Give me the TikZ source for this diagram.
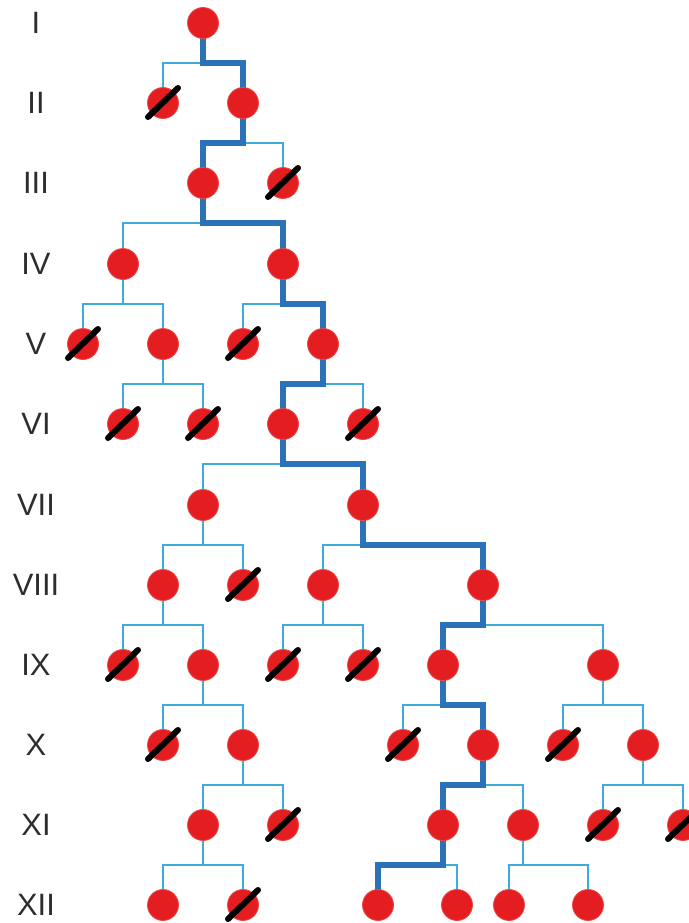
\documentclass[tikz,border=0pt]{standalone}
\usepackage{fontspec}
\setmainfont{Liberation Sans}
\usetikzlibrary{backgrounds}
\definecolor{cellred}{RGB}{228,30,32}
\definecolor{rimred}{RGB}{236,70,70}
\definecolor{thinblue}{RGB}{62,170,222}
\definecolor{thickblue}{RGB}{44,114,184}
\definecolor{labelgray}{RGB}{45,45,45}
\tikzset{
  cell/.style={circle, fill=cellred, draw=rimred, line width=0.8bp, minimum size=31bp, inner sep=0pt},
  slash/.style={draw=black, line width=6bp, line cap=round},
  tl/.style={draw=thinblue, line width=2.4bp},
  tk/.style={draw=thickblue, line width=5.5bp, line join=miter},
  gen/.style={font=\fontsize{31}{31}\selectfont, text=labelgray, inner sep=0pt, anchor=center}
}
\newcommand\live[3]{\node[cell] (#1) at (#2,#3) {};}
\newcommand\dead[3]{\node[cell] (#1) at (#2,#3) {};
  \draw[slash] ([shift={(-15,14)}]#1.center) -- ([shift={(15,-15)}]#1.center);}
\newcommand\brk[3]{\draw[tl] (#1.center) -- ++(0,40) coordinate (m-#1) -| (#2.center) (m-#1) -| (#3.center);}
\begin{document}
\begin{tikzpicture}[x=1bp,y=-1bp]
\useasboundingbox (0,0) rectangle (689,923);
\clip (0,0) rectangle (689,923);
% generation labels
\node[gen] (g1) at (36,23) {I};
\node[gen] (g2) at (36,103) {II};
\node[gen] (g3) at (36,183) {III};
\node[gen] (g4) at (36,264) {IV};
\node[gen] (g5) at (36,344) {V};
\node[gen] (g6) at (36,424) {VI};
\node[gen] (g7) at (36,505) {VII};
\node[gen] (g8) at (36,585) {VIII};
\node[gen] (g9) at (36,665) {IX};
\node[gen] (g10) at (36,745) {X};
\node[gen] (g11) at (36,825) {XI};
\node[gen] (g12) at (36,905) {XII};
% cells
\live{n1a}{203}{23}
\dead{n2a}{163}{103} \live{n2b}{243}{103}
\live{n3a}{203}{183} \dead{n3b}{283}{183}
\live{n4a}{123}{264} \live{n4b}{283}{264}
\dead{n5a}{83}{344} \live{n5b}{163}{344} \dead{n5c}{243}{344} \live{n5d}{323}{344}
\dead{n6a}{123}{424} \dead{n6b}{203}{424} \live{n6c}{283}{424} \dead{n6d}{363}{424}
\live{n7a}{203}{505} \live{n7b}{363}{505}
\live{n8a}{163}{585} \dead{n8b}{243}{585} \live{n8c}{323}{585} \live{n8d}{483}{585}
\dead{n9a}{123}{665} \live{n9b}{203}{665} \dead{n9c}{283}{665} \dead{n9d}{363}{665} \live{n9e}{443}{665} \live{n9f}{603}{665}
\dead{n10a}{163}{745} \live{n10b}{243}{745} \dead{n10c}{403}{745} \live{n10d}{483}{745} \dead{n10e}{563}{745} \live{n10f}{643}{745}
\live{n11a}{203}{825} \dead{n11b}{283}{825} \live{n11c}{443}{825} \live{n11d}{523}{825} \dead{n11e}{603}{825} \dead{n11f}{683}{825}
\live{n12a}{163}{905} \dead{n12b}{243}{905} \live{n12c}{378}{905} \live{n12d}{457}{905} \live{n12e}{509}{905} \live{n12f}{588}{905}
% lineage
\begin{scope}[on background layer]
\brk{n1a}{n2a}{n2b}
\brk{n2b}{n3a}{n3b}
\brk{n3a}{n4a}{n4b}
\brk{n4a}{n5a}{n5b}
\brk{n4b}{n5c}{n5d}
\brk{n5b}{n6a}{n6b}
\brk{n5d}{n6c}{n6d}
\brk{n6c}{n7a}{n7b}
\brk{n7a}{n8a}{n8b}
\brk{n7b}{n8c}{n8d}
\brk{n8a}{n9a}{n9b}
\brk{n8c}{n9c}{n9d}
\brk{n8d}{n9e}{n9f}
\brk{n9b}{n10a}{n10b}
\brk{n9e}{n10c}{n10d}
\brk{n9f}{n10e}{n10f}
\brk{n10b}{n11a}{n11b}
\brk{n10d}{n11c}{n11d}
\brk{n10f}{n11e}{n11f}
\brk{n11a}{n12a}{n12b}
\brk{n11c}{n12c}{n12d}
\brk{n11d}{n12e}{n12f}
\draw[tk] (n1a.center) -- ++(0,40) -| (n2b.center)
  -- ++(0,40) -| (n3a.center)
  -- ++(0,40) -| (n4b.center)
  -- ++(0,40) -| (n5d.center)
  -- ++(0,40) -| (n6c.center)
  -- ++(0,40) -| (n7b.center)
  -- ++(0,40) -| (n8d.center)
  -- ++(0,40) -| (n9e.center)
  -- ++(0,40) -| (n10d.center)
  -- ++(0,40) -| (n11c.center)
  -- ++(0,40) -| (n12c.center);
\end{scope}
\end{tikzpicture}
\end{document}
